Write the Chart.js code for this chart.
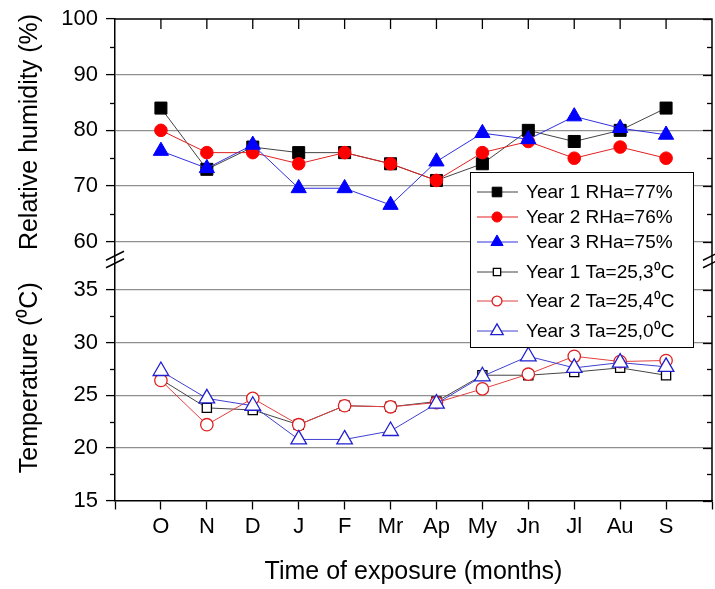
<!DOCTYPE html>
<html><head><meta charset="utf-8">
<script src="https://cdn.jsdelivr.net/npm/chart.js@4.4.1/dist/chart.umd.min.js"></script>
<style>html,body{margin:0;padding:0;background:#fff;}#wrap{width:715px;height:589px;position:relative;}</style>
</head><body><div id="wrap"><canvas id="c" width="715" height="589"></canvas></div>
<script>
const months = ['O','N','D','J','F','Mr','Ap','My','Jn','Jl','Au','S'];
const rh1 = [84,73,77,76,76,74,71,74,80,78,80,84];
const rh2 = [80,76,76,74,76,74,71,76,78,75,77,75];
const rh3 = [76.3,73.2,77.4,69.6,69.6,66.6,74.4,79.5,78.4,82.5,80.4,79.2];
const ta1 = [26.5,23.8,23.6,22.2,24.0,23.9,24.4,26.9,26.9,27.2,27.6,26.9];
const ta2 = [26.4,22.2,24.7,22.2,24.0,23.9,24.3,25.6,27.0,28.7,28.2,28.3];
const ta3 = [27.3,24.7,24.0,20.8,20.8,21.6,24.2,26.8,28.7,27.6,28.1,27.7];
const rhTicks = [60,70,80,90,100];
const taTicks = [15,20,25,30,35];
const legendLabels = ['Year 1 RHa=77%','Year 2 RHa=76%','Year 3 RHa=75%','Year 1 Ta=25,3\u2070C','Year 2 Ta=25,4\u2070C','Year 3 Ta=25,0\u2070C'];
const xTitle = 'Time of exposure (months)';
const rhTitle = 'Relative humidity (%)';
const taTitle = 'Temperature (\u2070C)';

const FONT = "'Liberation Sans', Arial, Helvetica, sans-serif";
function pts(arr){ return arr.map((v,i)=>({x:i,y:v})); }

const filled = (label, arr, color, lineColor, style, r, order) => ({
  label, data: pts(arr), yAxisID:'yH', borderColor: lineColor, borderWidth: 1,
  pointStyle: style, pointRadius: r, pointBackgroundColor: color, pointBorderColor: color,
  pointBorderWidth: 1, order, tension: 0
});
const open = (label, arr, color, lineColor, style, r, order) => ({
  label, data: pts(arr), yAxisID:'yT', borderColor: lineColor, borderWidth: 1,
  pointStyle: style, pointRadius: r, pointBackgroundColor: '#fff', pointBorderColor: color,
  pointBorderWidth: 1.3, order, tension: 0
});

const datasets = [
  filled(legendLabels[0], rh1, '#000', '#444', 'rect', 8.5, 6),
  filled(legendLabels[1], rh2, '#ff0000', '#e02020', 'circle', 6.3, 5),
  filled(legendLabels[2], rh3, '#0000ff', '#3030e0', 'triangle', 8.8, 4),
  open(legendLabels[3], ta1, '#000', '#444', 'rect', 6.5, 3),
  open(legendLabels[4], ta2, '#e02020', '#e04040', 'circle', 6.2, 2),
  open(legendLabels[5], ta3, '#2020d0', '#4040d0', 'triangle', 9, 1)
];

function line(ctx,x1,y1,x2,y2){ ctx.beginPath(); ctx.moveTo(x1,y1); ctx.lineTo(x2,y2); ctx.stroke(); }

const decor = {
  id:'decor',
  afterDraw(chart){
    const {ctx, chartArea:a, scales} = chart;
    const x = scales.x, yH = scales.yH, yT = scales.yT;
    ctx.save();
    ctx.strokeStyle = '#000';
    ctx.lineWidth = 1.5;
    ctx.beginPath(); ctx.moveTo(a.left, a.top); ctx.lineTo(a.right, a.top); ctx.lineTo(a.right, a.bottom); ctx.stroke();
    ctx.lineWidth = 1.3;
    for (let i=0;i<months.length;i++){ const px = x.getPixelForValue(i); line(ctx,px,a.top,px,a.top+10); }
    const doTicks = (scale, lo, hi, step) => {
      for (let v=lo; v<=hi+1e-9; v+=step/2){
        const py = Math.round(scale.getPixelForValue(v))+0.5;
        const major = Math.abs(v/step - Math.round(v/step)) < 1e-6;
        if (!major) line(ctx, a.left-5, py, a.left, py);
        line(ctx, a.right, py, a.right-(major?9:5), py);
      }
    };
    doTicks(yH, rhTicks[0], rhTicks[rhTicks.length-1], 10);
    doTicks(yT, taTicks[0], taTicks[taTicks.length-1], 5);
    // axis break marks
    const yb = yH.bottom;
    ctx.lineWidth = 1.5;
    [a.left, a.right].forEach(ax => {
      line(ctx, ax-9, yb+0.5, ax+9, yb-8.5);
      line(ctx, ax-9, yb+8, ax+9, yb-1);
    });
    // axis titles
    ctx.fillStyle = '#000';
    ctx.font = '25px ' + FONT;
    ctx.textAlign = 'center';
    ctx.textBaseline = 'middle';
    ctx.fillText(xTitle, (a.left + a.right)/2, 572);
    [[rhTitle, yH.top + 113], [taTitle, yT.top + 118]].forEach(([t, cy]) => {
      ctx.save(); ctx.translate(30, cy); ctx.rotate(-Math.PI/2); ctx.fillText(t, 0, 0); ctx.restore();
    });
    // legend
    const lx = 470, ly = 172, lw = 223, lh = 175;
    ctx.fillStyle = '#fff';
    ctx.fillRect(lx, ly, lw, lh);
    ctx.lineWidth = 1;
    ctx.strokeStyle = '#000';
    ctx.strokeRect(lx+0.5, ly+0.5, lw, lh);
    const rows = [192, 217, 242, 272, 301, 331];
    ctx.font = '19px ' + FONT;
    ctx.textBaseline = 'middle';
    ctx.textAlign = 'left';
    datasets.forEach((d,i) => {
      const cy = rows[i];
      ctx.strokeStyle = d.borderColor; ctx.lineWidth = 1;
      line(ctx, lx+7, cy, lx+48, cy);
      ctx.fillStyle = d.pointBackgroundColor; ctx.strokeStyle = d.pointBorderColor; ctx.lineWidth = d.pointBorderWidth;
      Chart.helpers.drawPoint(ctx, {pointStyle:d.pointStyle, radius:d.pointRadius*0.8, rotation:0, borderWidth:d.pointBorderWidth}, lx+27, cy);
      ctx.fillStyle = '#000';
      ctx.fillText(d.label, lx+56, cy+1);
    });
    ctx.restore();
  }
};

const yFit = (s) => { s.width = 115; s.paddingTop = 0; s.paddingBottom = 0; };

new Chart(document.getElementById('c'), {
  type:'line',
  data:{ datasets },
  plugins:[decor],
  options:{
    responsive:false, animation:false, devicePixelRatio:1,
    layout:{ autoPadding:false, padding:{ top:19, right:3, left:0, bottom:0 } },
    plugins:{ legend:{display:false}, tooltip:{enabled:false} },
    scales:{
      x:{
        type:'linear', min:-1, max:12, position:'bottom',
        afterFit(s){ s.height = 88.5; s.paddingLeft = 0; s.paddingRight = 0; },
        ticks:{ stepSize:1, autoSkip:false, padding:4, color:'#000', font:{family:FONT, size:22},
          callback:(v)=> (v>=0 && v<months.length) ? months[v] : '' },
        grid:{ drawOnChartArea:false, drawTicks:true, tickLength:9, tickColor:'#000', tickWidth:1.3 },
        border:{ color:'#000', width:1.5 },
        title:{ display:false }
      },
      yT:{
        type:'linear', position:'left', stack:'v', stackWeight:1,
        min:15, max:37.87,
        afterFit: yFit,
        ticks:{ stepSize:5, includeBounds:false, padding:8, color:'#000', font:{family:FONT, size:22},
          callback:(v)=> taTicks.includes(v) ? String(v) : '' },
        grid:{ color:(c)=> c.tick && c.tick.value===15 ? 'rgba(0,0,0,0)' : '#8f8f8f', lineWidth:1.2, tickColor:'#000', tickLength:9, tickWidth:1.3 },
        border:{ color:'#000', width:1.5 },
        title:{ display:false }
      },
      yH:{
        type:'linear', position:'left', stack:'v', stackWeight:1,
        min:56.76, max:100,
        afterFit: yFit,
        ticks:{ stepSize:10, includeBounds:false, padding:8, color:'#000', font:{family:FONT, size:22},
          callback:(v)=> rhTicks.includes(v) ? String(v) : '' },
        grid:{ color:(c)=> c.tick && c.tick.value===100 ? 'rgba(0,0,0,0)' : '#8f8f8f', lineWidth:1.2, tickColor:'#000', tickLength:9, tickWidth:1.3 },
        border:{ color:'#000', width:1.5 },
        title:{ display:false }
      }
    }
  }
});
</script></body></html>
